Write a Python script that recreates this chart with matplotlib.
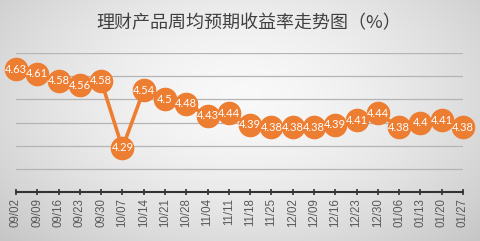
import numpy as np
import matplotlib
matplotlib.use("Agg")
import matplotlib.pyplot as plt

dates = ["09/02", "09/09", "09/16", "09/23", "09/30", "10/07", "10/14", "10/21",
         "10/28", "11/04", "11/11", "11/18", "11/25", "12/02", "12/09", "12/16",
         "12/23", "12/30", "01/06", "01/13", "01/20", "01/27"]
values = [4.63, 4.61, 4.58, 4.56, 4.58, 4.29, 4.54, 4.5, 4.48, 4.43, 4.44, 4.39,
          4.38, 4.38, 4.38, 4.39, 4.41, 4.44, 4.38, 4.4, 4.41, 4.38]
labels = ["4.63", "4.61", "4.58", "4.56", "4.58", "4.29", "4.54", "4.5", "4.48",
          "4.43", "4.44", "4.39", "4.38", "4.38", "4.38", "4.39", "4.41", "4.44",
          "4.38", "4.4", "4.41", "4.38"]
title = "理财产品周均预期收益率走势图（%）"

W, H = 481, 241
fig = plt.figure(figsize=(W / 100, H / 100), dpi=100)

# background radial gradient
bg = fig.add_axes([0, 0, 1, 1])
yy, xx = np.mgrid[0:H, 0:W]
r = np.sqrt(((xx - W * 0.5) / (W * 0.6)) ** 2 + ((yy - H * 0.4) / (H * 0.75)) ** 2)
g = np.clip(0.975 - 0.16 * r ** 1.6, 0.78, 1)
bg.imshow(np.dstack([g, g, g]), aspect="auto", extent=[0, 1, 0, 1])
bg.axis("off")

orange = "#ED7D31"
ax = fig.add_axes([16 / W, 1 - 192 / H, (463 - 16) / W, (192 - 53) / H])
ax.patch.set_alpha(0)
x = np.arange(len(values))
ax.plot(x, values, color=orange, lw=2.6, marker="o", ms=16, mfc=orange,
        mec=orange, clip_on=False, zorder=3)
for xi, v, t in zip(x, values, labels):
    ax.text(xi, v, t, color="white", fontsize=8, family=["Lato", "DejaVu Sans"],
            ha="center", va="center", zorder=4)

ax.set_xlim(0, len(values) - 1)
ax.set_ylim(4.1, 4.7)
ax.set_yticks([4.2, 4.3, 4.4, 4.5, 4.6, 4.7])
ax.yaxis.grid(True, color="#b4b4b4", lw=0.9)
ax.tick_params(axis="y", length=0, labelleft=False)
ax.set_xticks(x)
ax.set_xticklabels(dates, rotation=90, fontsize=8.3, color="#595959",
                   family=["Liberation Sans", "DejaVu Sans"])
ax.tick_params(axis="x", direction="inout", length=5, width=1.2, color="#333333", pad=2)
for s in ["top", "right", "left"]:
    ax.spines[s].set_visible(False)
ax.spines["bottom"].set_color("#333333")
ax.spines["bottom"].set_linewidth(1.5)

fig.text(249 / W, 1 - 23 / H, title, ha="center", va="center", fontsize=13,
         color="#404040", family=["Noto Sans CJK SC", "DejaVu Sans"])

fig.savefig("out.png", dpi=100)
